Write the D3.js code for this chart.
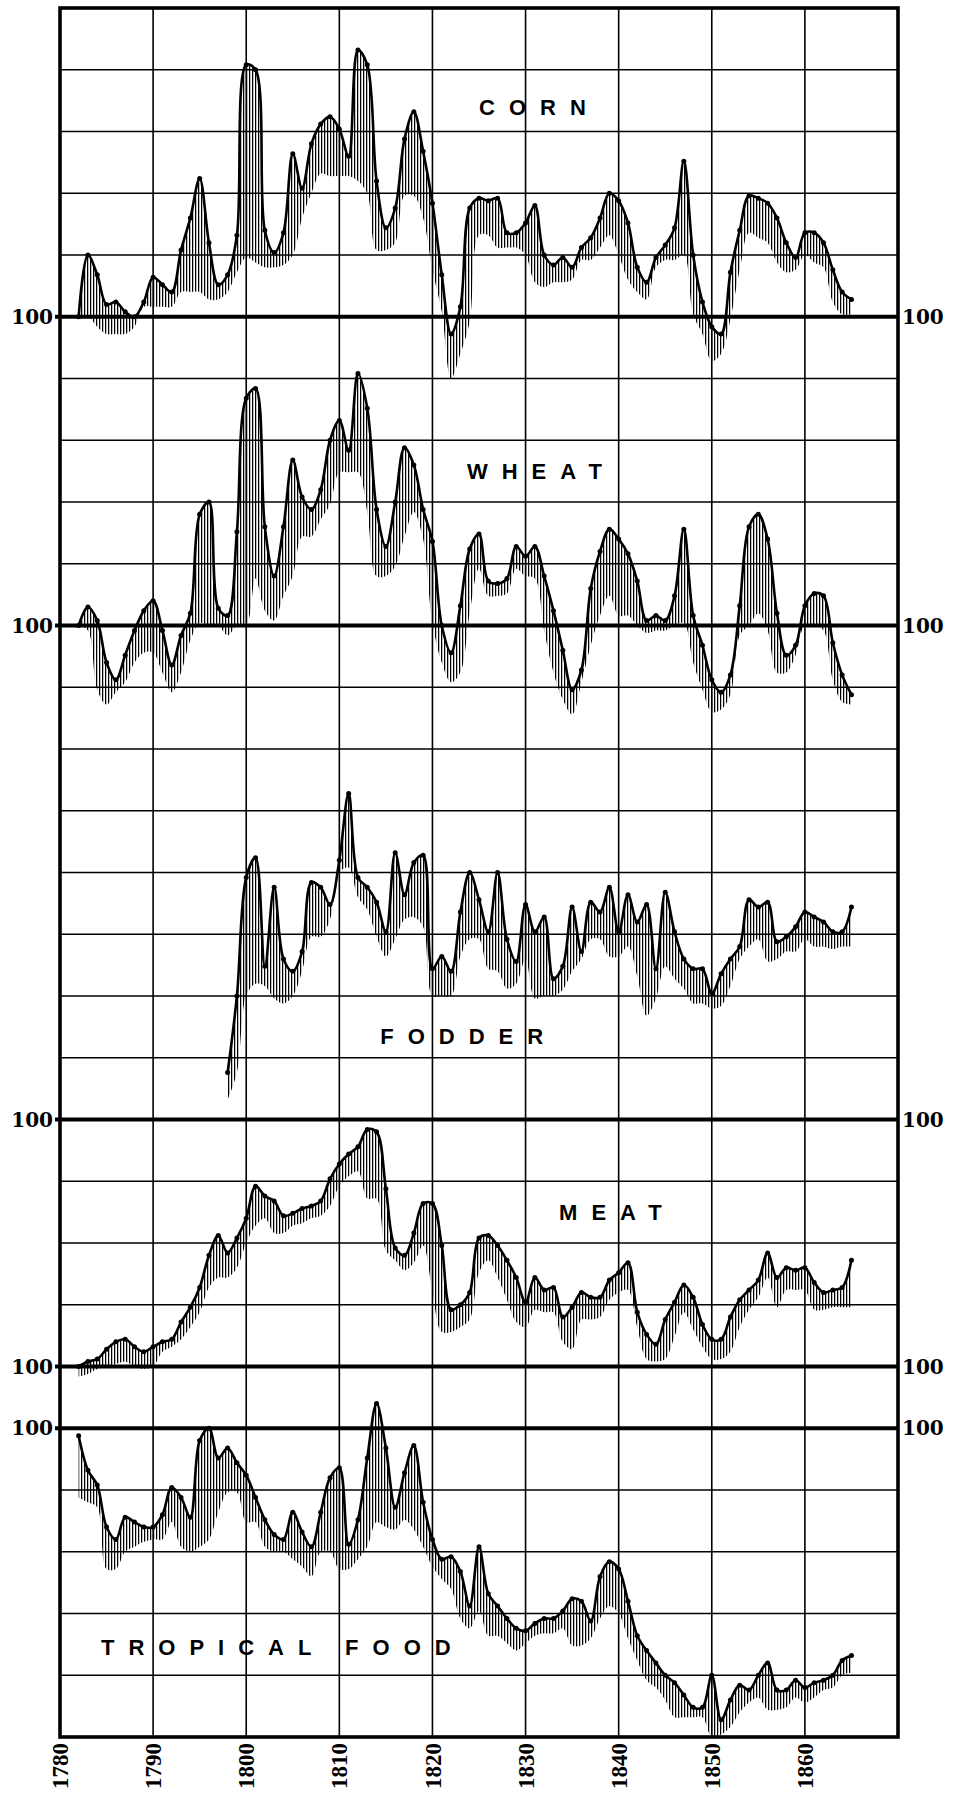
<!DOCTYPE html>
<meta charset="utf-8">
<head>
    <title>Prices of corn, wheat, fodder, meat and tropical food, 1782-1865</title>
    <style>
        body { margin: 0; background: #fff; }
        .grid line { stroke: #000; stroke-width: 1.6px; }
        .grid line.base { stroke-width: 3.8px; }
        .frame { fill: none; stroke: #000; stroke-width: 3.6px; }
        .curve { fill: none; stroke: #000; stroke-width: 2.6px; stroke-linejoin: round; }
        .dot { fill: #000; }
        .name { font: bold 22px "Liberation Sans", Arial, sans-serif; letter-spacing: 14px; }
        .hundred { font: bold 20px "DejaVu Serif", serif; }
        .year { font: bold 23px "Liberation Serif", serif; }
    </style>
</head>
<body>
<svg width="961" height="1799"></svg>

<script src="https://d3js.org/d3.v7.min.js"></script>
<script>
    // index numbers, 100 = the heavy line of each panel, one grid row = 10 points
    var years = d3.range(1782, 1866),
        fodderYears = d3.range(1798, 1866),
        decades = [1780, 1790, 1800, 1810, 1820, 1830, 1840, 1850, 1860];

    var cornPrice = [100, 110, 106.8, 102, 102.4, 100.8, 100, 102.4,
        106.4, 105.2, 104, 110.8, 116, 122.4, 112, 105.2, 106.8, 113.2,
        140.8, 140, 114, 110.4, 113.6, 126.4, 120.8, 128, 131.2, 132.4,
        130.4, 126, 143.2, 140.8, 122, 114.4, 117.6, 128.8, 133.2, 126.8,
        118.4, 106.8, 97.2, 101.6, 117.6, 119.2, 118.8, 119.2, 113.6, 113.6,
        115.2, 118, 110, 108.4, 109.6, 108, 111.2, 112.8, 116, 120,
        118.8, 115.2, 108, 105.6, 109.6, 111.6, 114.4, 125.2, 110, 102.4,
        98.4, 97.2, 107.2, 114, 119.6, 119.2, 118.4, 116, 112, 109.6,
        113.6, 113.6, 112, 107.6, 104, 102.8];
    var cornLow = [100, 100, 98.4, 97.2, 97.2, 97.2, 98.4, 101.6,
        101.6, 101.6, 101.6, 104, 104, 104, 102.8, 102.8, 104, 107.2,
        109.6, 108.8, 108, 108, 108.4, 110, 116, 120, 123.2, 122.8,
        122.8, 122.8, 122, 120, 110.8, 110.8, 112, 119.6, 119.6, 116,
        107.6, 100.8, 90, 94, 99.2, 113.2, 113.2, 111.2, 111.2, 111.2,
        110, 105.6, 104.8, 105.6, 105.6, 106, 109.2, 109.2, 111.2, 113.2,
        110, 106, 104, 102.8, 108, 109.2, 109.2, 110, 100.4, 97.2,
        92.8, 94, 99.6, 107.6, 113.6, 112.8, 112, 108.8, 107.2, 107.6,
        110, 108.8, 108, 102.4, 100.4, 100.4];

    var wheatPrice = [100, 103, 100.8, 94, 91.2, 95.2, 99.2, 102.4,
        104, 99.2, 93.6, 98.4, 102, 118, 120, 102.8, 101.6, 115.2,
        136.8, 138.4, 116, 108, 116, 126.8, 120.8, 118.8, 122, 130,
        133.2, 128.4, 140.8, 135.2, 118.8, 112.8, 120, 128.8, 126, 118.8,
        113.6, 100, 95.6, 103.2, 112.4, 114.8, 107.2, 106.8, 107.6, 112.8,
        111.2, 112.8, 108, 102.4, 96, 89.6, 92.8, 106, 112, 115.6,
        114, 111.6, 107.2, 100.8, 101.6, 100.8, 104.8, 115.6, 101.6, 96.8,
        91.2, 89.2, 92, 103.2, 116, 118, 114, 102, 95.2, 96.8,
        103.2, 105.2, 104.8, 97.2, 92, 88.8];
    var wheatLow = [100, 99.2, 89.6, 87.2, 89.2, 90.8, 94, 95.6,
        95.6, 92.4, 89.2, 92.4, 97.6, 100.4, 100, 100, 98.4, 100,
        100, 107.6, 102.4, 100.8, 104.8, 108, 114.4, 114.4, 117.2, 119.6,
        124.8, 124.8, 124.8, 118.4, 108, 108, 109.6, 114.4, 118.4, 114,
        100.4, 94, 90.8, 92.4, 102, 109.2, 104.8, 104.8, 105.2, 109.2,
        108, 107.6, 99.2, 92.4, 88, 85.6, 90.8, 96.8, 101.6, 104.8,
        101.6, 101.6, 100, 98.8, 99.2, 99.2, 100, 100.4, 94, 89.6,
        86, 86.4, 88.8, 98.4, 100, 102, 99.2, 92.4, 92.4, 95.2,
        100, 100, 99.2, 91.2, 87.6, 87.2];

    var fodderPrice = [107.6, 120,
        139.2, 142.4, 124.8, 137.6, 126, 124, 127.2, 138.4, 137.6, 134.8,
        142, 152.8, 139.2, 137.6, 135.2, 130.4, 143.2, 136.4, 141.6, 142.8,
        124.4, 126.4, 124, 133.6, 140, 135.6, 130.4, 140, 129.2, 125.6,
        134.8, 130.4, 132.8, 122.8, 124.8, 134.4, 127.2, 135.2, 133.6, 137.6,
        130.4, 136.4, 132, 134.8, 124.4, 136.8, 130.4, 126, 124.4, 124.4,
        120.4, 123.6, 126, 128, 135.6, 134.4, 135.2, 128.8, 129.6, 131.2,
        133.6, 132.8, 132, 130.4, 130.4, 134.4];
    var fodderLow = [103.2, 107.6,
        120, 122, 121.6, 119.6, 118.8, 120, 124, 129.6, 129.6, 132.4,
        140, 140.8, 136, 134, 129.6, 126.4, 129.2, 132.4, 132.8, 131.2,
        120, 120, 120, 126.4, 129.2, 129.2, 124.4, 124, 121.2, 122,
        126, 119.6, 120, 120, 121, 124, 126, 129.2, 129.2, 126.4,
        126.4, 128, 123.2, 116.8, 119.6, 124.8, 122.8, 121.2, 118.8, 118.8,
        118, 118.4, 121.6, 126, 128, 129.2, 125.6, 126, 127.2, 127.2,
        129.2, 128, 128, 127.6, 128, 128];

    var meatPrice = [100, 100.8, 101.2, 102.8, 104, 104.4, 103.2, 102.4,
        103.2, 104, 104.4, 107.2, 109.6, 112.8, 118, 121.2, 118.4, 120.8,
        124, 129.2, 127.6, 126.8, 124.4, 124.8, 125.6, 126, 126.8, 130.4,
        132.8, 134.4, 135.6, 138.4, 138, 128.8, 119.2, 118, 121.6, 126.4,
        126.4, 119.6, 109.2, 110, 112, 120.8, 121.2, 119.6, 117.2, 114.4,
        110.4, 114.4, 112.4, 112.8, 108, 109.6, 112, 111.2, 111.2, 114,
        115.2, 116.8, 108.8, 105.2, 103.6, 107.6, 110.4, 113.2, 111.2, 106.8,
        104.4, 104.4, 108, 110.8, 112.4, 114, 118.4, 114.4, 116, 115.6,
        116, 113.6, 112, 112.4, 112.8, 117.2];
    var meatLow = [98.4, 98.8, 99.6, 100, 100.4, 100.8, 100, 99.6,
        100, 102.4, 103.2, 104.4, 106.4, 108.8, 112.8, 114.4, 114.4, 116,
        120, 122.8, 124, 121.6, 121.6, 122.8, 123.2, 124, 124.4, 126,
        129.2, 130.8, 131.6, 127.2, 127.2, 118.8, 117.2, 115.6, 116.8, 119.6,
        112, 105.6, 105.6, 106.4, 107.6, 115.2, 117.2, 114.4, 110.8, 107.2,
        106.4, 109.2, 108.8, 108.8, 104, 102.8, 107.6, 107.6, 108, 110.8,
        112, 112.4, 106.4, 101.2, 100.8, 101.2, 104.8, 108.8, 106, 103.2,
        101.2, 101.2, 102.4, 106.4, 109.2, 111.2, 114.4, 109.6, 112.4, 112.4,
        112.4, 109.2, 109.2, 109.6, 109.6, 109.6];

    var tropicalPrice = [98.8, 93.2, 90.8, 84, 82, 85.6, 84.8, 84,
        84, 86, 90.4, 88.8, 85.6, 98, 100, 95.2, 96.8, 94.4,
        92.4, 88.8, 85.2, 82.8, 82, 86.4, 83.2, 80.8, 86.4, 92,
        93.6, 81.2, 85.2, 95.2, 104, 96.8, 87.2, 92.8, 97.2, 88,
        82, 78.8, 79.2, 76.8, 71.2, 80.8, 73.2, 71.2, 69.2, 67.6,
        67.2, 68.4, 69.2, 69.2, 70.4, 72.4, 72, 68.8, 76, 78.4,
        77.2, 72, 66.4, 64, 62, 60, 58.8, 56.8, 54.8, 54.8,
        60, 52.8, 56, 58.4, 57.6, 60, 62, 57.6, 57.6, 59.2,
        58, 58.8, 59.2, 60, 62.4, 63.2];
    var tropicalLow = [88.8, 88, 87.2, 77.2, 77.2, 80, 80.8, 81.6,
        82, 82, 84.8, 80.8, 80, 80.8, 82, 86.4, 89.6, 89.6,
        84.8, 84.8, 80.8, 80, 80, 78.8, 77.6, 76, 80, 80,
        77.2, 77.2, 78.8, 80.8, 84.8, 84, 83.6, 85.2, 83.6, 80.8,
        77.6, 75.6, 74, 69.2, 67.6, 70.4, 66.4, 66.4, 65.2, 64,
        65.2, 66.4, 66.8, 66.8, 67.6, 64.8, 64.8, 66, 69.2, 71.2,
        70, 66, 62.4, 59.2, 58, 56, 53.2, 53.2, 53.2, 53.2,
        50, 50.4, 51.6, 54, 55.6, 56.4, 54.4, 54.4, 54.8, 56.4,
        55.6, 56.4, 57.6, 58, 60, 60.4];

    // layout: grid row of each panel's 100 line, and where its name is written
    var panels = [
        {name: "CORN", years: years, price: cornPrice, low: cornLow, baseRow: 5, labelYear: 1825.0, labelRow: 1.6},
        {name: "WHEAT", years: years, price: wheatPrice, low: wheatLow, baseRow: 10, labelYear: 1823.7, labelRow: 7.5},
        {name: "FODDER", years: fodderYears, price: fodderPrice, low: fodderLow, baseRow: 18, labelYear: 1814.4, labelRow: 16.65},
        {name: "MEAT", years: years, price: meatPrice, low: meatLow, baseRow: 22, labelYear: 1833.6, labelRow: 19.5},
        {name: "TROPICAL FOOD", years: years, price: tropicalPrice, low: tropicalLow, baseRow: 23, labelYear: 1784.4, labelRow: 26.55}
    ];

    var svg = d3.select("svg"),
        x = d3.scaleLinear().domain([1780, 1870]).range([60, 898]),
        row = d3.scaleLinear().domain([0, 28]).range([8, 1737]);

    var baseRows = panels.map(function(p) { return p.baseRow; });

    svg.append("defs").append("pattern")
        .attr("id", "hatch")
        .attr("patternUnits", "userSpaceOnUse")
        .attr("width", 3)
        .attr("height", 8)
        .append("rect")
        .attr("width", 1.25)
        .attr("height", 8)
        .attr("fill", "#000");

    // grid
    var grid = svg.append("g").attr("class", "grid");
    grid.selectAll("line.h")
        .data(d3.range(1, 28))
        .enter().append("line")
        .attr("class", function(d) { return baseRows.indexOf(d) >= 0 ? "h base" : "h"; })
        .attr("x1", function(d) { return baseRows.indexOf(d) >= 0 ? x(1780) - 5 : x(1780); })
        .attr("x2", x(1870))
        .attr("y1", row)
        .attr("y2", row);
    grid.selectAll("line.v")
        .data(decades.slice(1))
        .enter().append("line")
        .attr("class", "v")
        .attr("x1", x).attr("x2", x)
        .attr("y1", row(0)).attr("y2", row(28));

    // panels
    panels.forEach(function(p) {
        var y = d3.scaleLinear().domain([100, 110]).range([row(p.baseRow), row(p.baseRow - 1)]);
        var pts = p.years.map(function(yr, i) { return {year: yr, price: p.price[i], low: p.low[i]}; });
        var g = svg.append("g");

        g.append("path")
            .datum(pts)
            .attr("fill", "url(#hatch)")
            .attr("d", d3.area()
                .x(function(d) { return x(d.year); })
                .y0(function(d) { return y(d.low); })
                .y1(function(d) { return y(d.price); })
                .curve(d3.curveCatmullRom));

        g.append("path")
            .datum(pts)
            .attr("class", "curve")
            .attr("d", d3.line()
                .x(function(d) { return x(d.year); })
                .y(function(d) { return y(d.price); })
                .curve(d3.curveCatmullRom));

        g.selectAll("circle")
            .data(pts)
            .enter().append("circle")
            .attr("class", "dot")
            .attr("r", 2.5)
            .attr("cx", function(d) { return x(d.year); })
            .attr("cy", function(d) { return y(d.price); });

        g.append("text")
            .attr("class", "name")
            .attr("x", x(p.labelYear))
            .attr("y", row(p.labelRow))
            .attr("dy", "0.36em")
            .text(p.name);

        g.append("text")
            .attr("class", "hundred")
            .attr("x", x(1780) - 7)
            .attr("y", row(p.baseRow))
            .attr("dy", "0.36em")
            .attr("text-anchor", "end")
            .text("100");

        g.append("text")
            .attr("class", "hundred")
            .attr("x", x(1870) + 4)
            .attr("y", row(p.baseRow))
            .attr("dy", "0.36em")
            .text("100");
    });

    svg.append("rect")
        .attr("class", "frame")
        .attr("x", x(1780))
        .attr("y", row(0))
        .attr("width", x(1870) - x(1780))
        .attr("height", row(28) - row(0));

    // year labels, read upwards
    svg.append("g").selectAll("text")
        .data(decades)
        .enter().append("text")
        .attr("class", "year")
        .attr("text-anchor", "end")
        .attr("dy", "0.35em")
        .attr("transform", function(d) { return "translate(" + x(d) + "," + (row(28) + 6) + ") rotate(-90)"; })
        .text(function(d) { return d; });
</script>
</body>
